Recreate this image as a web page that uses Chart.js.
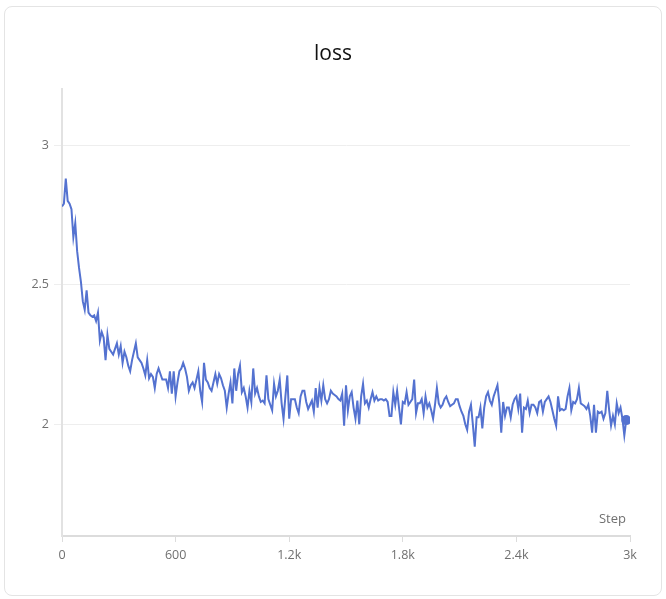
<!DOCTYPE html>
<html>
<head>
<meta charset="utf-8">
<script src="https://cdn.jsdelivr.net/npm/chart.js@4"></script>
<style>
  body { margin: 0; background: #fff; }
  .card {
    position: absolute;
    left: 4px;
    top: 6px;
    width: 656px;
    height: 588px;
    border: 1px solid #e4e4e4;
    border-radius: 8px;
  }
</style>
</head>
<body>
<div class="card"><canvas id="lossChart"></canvas></div>
<script>
// loss values, one every 10 steps
let lossValues = [
  2.78, 2.79, 2.88, 2.80, 2.79, 2.77, 2.67, 2.72, 2.62, 2.56,
  2.51, 2.44, 2.41, 2.48, 2.40, 2.39, 2.385, 2.39, 2.37, 2.40,
  2.30, 2.33, 2.31, 2.23, 2.32, 2.27, 2.26, 2.25, 2.27, 2.29,
  2.25, 2.28, 2.22, 2.26, 2.24, 2.21, 2.19, 2.23, 2.26, 2.29,
  2.24, 2.23, 2.22, 2.20, 2.175, 2.23, 2.165, 2.18, 2.17, 2.13,
  2.18, 2.20, 2.18, 2.16, 2.16, 2.16, 2.13, 2.19, 2.11, 2.19,
  2.10, 2.15, 2.19, 2.20, 2.22, 2.20, 2.17, 2.12, 2.14, 2.15,
  2.13, 2.16, 2.19, 2.12, 2.08, 2.22, 2.16, 2.15, 2.13, 2.12,
  2.15, 2.18, 2.145, 2.18, 2.165, 2.14, 2.12, 2.06, 2.11, 2.15,
  2.075, 2.20, 2.12, 2.18, 2.21, 2.115, 2.13, 2.10, 2.06, 2.12,
  2.08, 2.20, 2.11, 2.13, 2.10, 2.08, 2.085, 2.075, 2.175, 2.09,
  2.07, 2.05, 2.145, 2.10, 2.12, 2.16, 2.075, 2.02, 2.10, 2.175,
  2.02, 2.09, 2.09, 2.09, 2.06, 2.04, 2.10, 2.12, 2.12, 2.08,
  2.055, 2.07, 2.085, 2.045, 2.13, 2.06, 2.13, 2.085, 2.14, 2.09,
  2.075, 2.09, 2.12, 2.11, 2.105, 2.10, 2.09, 2.085, 2.11, 1.995,
  2.14, 2.05, 2.10, 2.115, 2.06, 2.02, 2.085, 2.00, 2.10, 2.145,
  2.075, 2.085, 2.06, 2.09, 2.115, 2.085, 2.10, 2.085, 2.09, 2.09,
  2.085, 2.09, 2.08, 2.03, 2.03, 2.115, 2.07, 2.12, 2.06, 2.00,
  2.08, 2.075, 2.115, 2.07, 2.08, 2.09, 2.16, 2.04, 2.075, 2.075,
  2.09, 2.04, 2.10, 2.06, 2.075, 2.05, 2.02, 2.07, 2.13, 2.075,
  2.06, 2.07, 2.09, 2.10, 2.08, 2.065, 2.07, 2.075, 2.09, 2.09,
  2.065, 2.045, 2.03, 2.00, 1.98, 2.045, 2.07, 2.00, 1.92, 2.025,
  2.025, 2.06, 1.985, 2.06, 2.10, 2.115, 2.085, 2.07, 2.10, 2.12,
  2.14, 2.075, 1.97, 2.08, 2.03, 2.06, 2.06, 2.025, 2.07, 2.09,
  2.10, 2.055, 2.11, 1.97, 2.06, 2.055, 2.085, 2.04, 2.07, 2.07,
  2.06, 2.04, 2.08, 2.085, 2.045, 2.08, 2.09, 2.10, 2.08, 2.05,
  2.02, 1.995, 2.10, 2.05, 2.055, 2.05, 2.055, 2.10, 2.13, 2.05,
  2.08, 2.075, 2.09, 2.13, 2.075, 2.07, 2.065, 2.055, 2.07, 2.03,
  1.97, 2.07, 1.97, 2.045, 2.04, 2.045, 2.02, 2.04, 2.12, 2.05,
  1.995, 2.03, 2.00, 2.075, 2.04, 2.06, 2.02, 1.96, 2.015
];
let steps = lossValues.map((v, i) => i * 10);
let xTicks = [0, 600, 1200, 1800, 2400, 3000];
let yTicks = [2, 2.5, 3];

// "Step" label sits inside the plot, bottom right
const stepLabel = {
  id: 'stepLabel',
  afterDraw(chart) {
    let ctx = chart.ctx;
    let area = chart.chartArea;
    ctx.save();
    ctx.font = '13px "Open Sans"';
    ctx.fillStyle = '#707070';
    ctx.textAlign = 'right';
    ctx.textBaseline = 'middle';
    ctx.fillText('Step', area.right - 4, area.bottom - 17);
    ctx.restore();
  }
};

let ctx = document.getElementById('lossChart').getContext('2d');
new Chart(ctx, {
  type: 'line',
  data: {
    datasets: [
      {
        label: 'loss',
        data: steps.map((s, i) => ({ x: s, y: lossValues[i] })),
        borderColor: '#5472d0',
        backgroundColor: '#5472d0',
        borderWidth: 2,
        tension: 0,
        pointRadius: (c) => (c.dataIndex === lossValues.length - 1 ? 4 : 0),
        pointHoverRadius: 4,
      },
    ],
  },
  options: {
    responsive: true,
    maintainAspectRatio: false,
    animation: false,
    layout: { padding: 0 },
    plugins: {
      legend: { display: false },
      tooltip: { enabled: false },
      title: {
        display: true,
        text: 'loss',
        color: '#111',
        font: { family: '"Open Sans"', size: 21, weight: 'normal' },
        padding: { top: 34, bottom: 23 },
      },
    },
    scales: {
      x: {
        type: 'linear',
        min: 0,
        max: 3000,
        afterBuildTicks: (scale) => {
          scale.ticks = xTicks.map((v) => ({ value: v }));
        },
        afterFit: (scale) => {
          scale.height = 59;
        },
        border: { color: '#dcdcdc', width: 2 },
        grid: { drawOnChartArea: false, drawTicks: true, tickLength: 6, color: '#dcdcdc' },
        ticks: {
          color: '#707070',
          padding: 6,
          maxRotation: 0,
          font: { family: '"Open Sans"', size: 12.5 },
          callback: (v) => (v >= 1000 ? v / 1000 + 'k' : v),
        },
      },
      y: {
        min: 1.6,
        max: 3.2,
        afterBuildTicks: (scale) => {
          scale.ticks = yTicks.map((v) => ({ value: v }));
        },
        afterFit: (scale) => {
          scale.width = 57;
        },
        border: { color: '#e2e2e2', width: 2 },
        grid: { color: '#eeeeee', tickLength: 8 },
        ticks: {
          color: '#707070',
          padding: 5,
          font: { family: '"Open Sans"', size: 12.5 },
          callback: (v) => String(v),
        },
      },
      // empty axis on the right, only to leave room after the plot
      yRight: {
        position: 'right',
        afterFit: (scale) => {
          scale.width = 31;
        },
        border: { display: false },
        grid: { display: false },
        ticks: { display: false },
      },
    },
  },
  plugins: [stepLabel],
});
</script>
</body>
</html>
